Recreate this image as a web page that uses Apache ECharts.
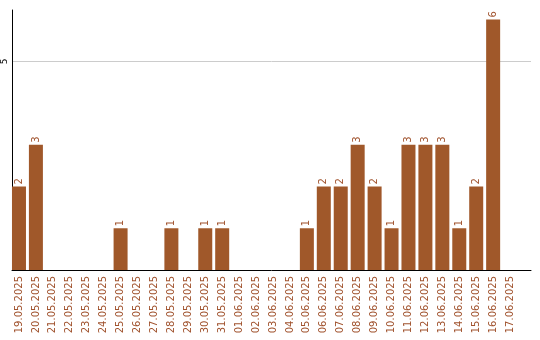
<!DOCTYPE html>
<html>
<head>
<meta charset="utf-8">
<script src="https://cdn.jsdelivr.net/npm/echarts@6/dist/echarts.min.js"></script>
<style>
  html, body { margin: 0; padding: 0; background: #fff; }
  #chart { width: 540px; height: 340px; }
</style>
</head>
<body>
<div id="chart"></div>
<script>
// Daily counts, 19.05.2025 – 17.06.2025
const dates = [
  '19.05.2025', '20.05.2025', '21.05.2025', '22.05.2025', '23.05.2025',
  '24.05.2025', '25.05.2025', '26.05.2025', '27.05.2025', '28.05.2025',
  '29.05.2025', '30.05.2025', '31.05.2025', '01.06.2025', '02.06.2025',
  '03.06.2025', '04.06.2025', '05.06.2025', '06.06.2025', '07.06.2025',
  '08.06.2025', '09.06.2025', '10.06.2025', '11.06.2025', '12.06.2025',
  '13.06.2025', '14.06.2025', '15.06.2025', '16.06.2025', '17.06.2025'
];
const counts = [
  2, 3, 0, 0, 0,
  0, 1, 0, 0, 1,
  0, 1, 1, 0, 0,
  0, 0, 1, 2, 2,
  3, 2, 1, 3, 3,
  3, 1, 2, 6, 0
];

const brown = '#a0582a';
const textBrown = '#a0522d';

// Day index on a numeric axis; each day occupies 17px, the axis runs a bit past the last day.
const dayIdx = dates.map((_, i) => i);
const points = counts.map((v, i) => [i, v]);

const chart = echarts.init(document.getElementById('chart'));
chart.setOption({
  animation: false,
  grid: { left: 10, right: 9, top: 10, bottom: 70, containLabel: false },
  xAxis: {
    type: 'value',
    min: -7 / 17,
    max: 514 / 17,
    axisLine: { show: true, onZero: false, lineStyle: { color: '#000', width: 1 } },
    axisTick: { show: false },
    splitLine: { show: false },
    axisLabel: {
      customValues: dayIdx,
      formatter: v => dates[Math.round(v)] || '',
      rotate: 90,
      color: textBrown,
      fontSize: 10,
      fontFamily: 'DejaVu Sans',
      margin: 6
    }
  },
  yAxis: {
    type: 'value',
    min: 0,
    max: 6.23,
    interval: 5,
    axisLine: { show: true, onZero: false, lineStyle: { color: '#000', width: 1 } },
    axisTick: { show: false },
    splitLine: { show: true, showMinLine: false, showMaxLine: false, lineStyle: { color: '#cccccc', width: 1 } },
    axisLabel: {
      rotate: 90,
      color: '#000',
      fontSize: 9,
      fontFamily: 'DejaVu Sans',
      margin: 3,
      showMinLabel: false,
      showMaxLabel: false
    }
  },
  series: [{
    type: 'bar',
    data: points,
    barWidth: 14,
    itemStyle: { color: brown },
    label: {
      show: true,
      position: 'top',
      rotate: 90,
      align: 'left',
      verticalAlign: 'middle',
      distance: 2,
      color: textBrown,
      fontSize: 10,
      fontFamily: 'DejaVu Sans',
      formatter: p => (p.value[1] > 0 ? String(p.value[1]) : '')
    }
  }]
});
</script>
</body>
</html>
